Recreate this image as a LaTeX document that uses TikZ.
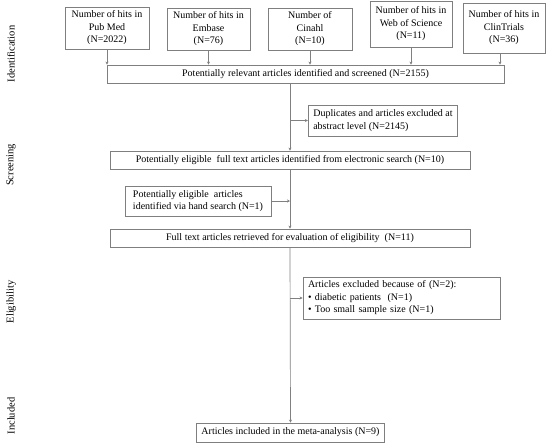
\documentclass[tikz,border=0pt]{standalone}
\usepackage{fontspec}
\setmainfont{Liberation Serif}
\usetikzlibrary{arrows.meta}
\definecolor{boxgray}{HTML}{7F7F7F}
\definecolor{linegray}{HTML}{808080}
\tikzset{
  box/.style={draw=boxgray, line width=0.8pt, inner xsep=5pt, inner ysep=1pt,
    font=\fontsize{10}{12.5}\selectfont, text=black},
  cbox/.style={box, align=center},
  lbox/.style={box, align=left},
  arr/.style={draw=linegray, line width=0.7pt, -{Stealth[length=3pt,width=3pt]}},
  phase/.style={rotate=90, font=\fontsize{10.5}{12}\selectfont, text=black}
}
\begin{document}
\begin{tikzpicture}[x=1pt,y=-1pt]
\useasboundingbox (0,0) rectangle (550,445);
% phase labels
\node[phase] (lid) at (11,54) {Identification};
\node[phase] (lsc) at (11,165) {Screening};
\node[phase] (lel) at (11,302) {Eligibility};
\node[phase] (lin) at (11,416) {Included};
% top boxes
\node[cbox, minimum width=84pt, minimum height=42pt] (pub) at (107,28) {Number of hits in\\Pub Med\\(N=2022)};
\node[cbox, minimum width=83pt, minimum height=42pt] (emb) at (208.5,29) {Number of hits in\\Embase\\(N=76)};
\node[cbox, minimum width=84pt, minimum height=42pt] (cin) at (310,29) {Number of\\Cinahl\\(N=10)};
\node[cbox, minimum width=82pt, minimum height=46pt] (wos) at (411,24) {Number of hits in\\Web of Science\\(N=11)};
\node[cbox, minimum width=82pt, minimum height=50pt] (clin) at (504,28) {Number of hits in\\ClinTrials\\(N=36)};
% main flow
\node[cbox, minimum width=397pt, minimum height=18pt] (rel) at (305.5,74) {Potentially relevant articles identified and screened (N=2155)};
\node[lbox, minimum width=148pt, minimum height=31pt] (dup) at (383,120.5) {Duplicates and articles excluded at\\abstract level (N=2145)};
\node[cbox, minimum width=360pt, minimum height=18pt] (elig) at (290,160) {Potentially eligible\ \ full text articles identified from electronic search (N=10)};
\node[lbox, minimum width=146pt, minimum height=30pt] (hand) at (198,201) {Potentially eligible\ \ articles\\identified via hand search (N=1)};
\node[cbox, minimum width=360pt, minimum height=18pt] (full) at (290,238) {Full text articles retrieved for evaluation of eligibility\ \ (N=11)};
\node[lbox, text width=187pt, minimum height=42pt] (excl) at (401.5,298) {Articles excluded because of (N=2):\\\textbullet\ diabetic patients\ \ (N=1)\\\textbullet\ Too small sample size (N=1)};
\node[cbox, minimum width=183pt, minimum height=19pt] (fin) at (290.5,432.5) {Articles included in the meta-analysis (N=9)};
% arrows from sources
\draw[arr] (pub.south) -- (pub.south |- rel.north);
\draw[arr] (emb.south) -- (emb.south |- rel.north);
\draw[arr] (cin.south) -- (cin.south |- rel.north);
\draw[arr] (wos.south) -- (wos.south |- rel.north);
\draw[arr] ([xshift=-4pt]clin.south) -- ([xshift=-4pt]clin.south |- rel.north);
% vertical spine
\coordinate (s1) at (290,83);
\coordinate (jd) at (290,120.5);
\coordinate (jh) at (290,201);
\coordinate (je) at (290,298);
\draw[arr] (rel.south -| s1) -- (elig.north);
\draw[arr] (jd) -- (dup.west);
\draw[arr] (elig.south) -- (full.north);
\draw[arr] (hand.east) -- (jh);
\draw[arr] (full.south) -- (fin.north);
\draw[arr] (je) -- (excl.west);
\end{tikzpicture}
\end{document}
